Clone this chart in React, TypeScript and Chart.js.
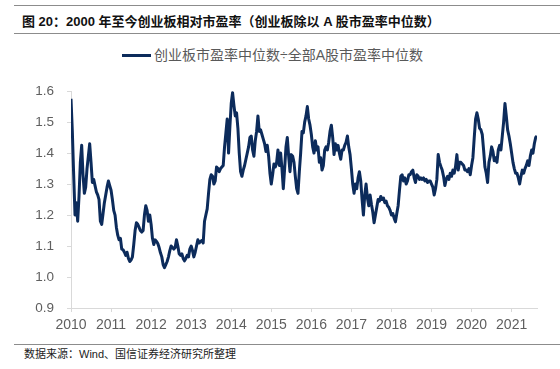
import React, { useEffect, useRef } from "react";
import { Chart, registerables } from "chart.js";

Chart.register(...registerables);

const TITLE = "图 20：2000 年至今创业板相对市盈率（创业板除以 A 股市盈率中位数）";
const SERIES_LABEL = "创业板市盈率中位数÷全部A股市盈率中位数";
const SOURCE = "数据来源：Wind、国信证券经济研究所整理";

const years = [2010, 2011, 2012, 2013, 2014, 2015, 2016, 2017, 2018, 2019, 2020, 2021];
const POINTS_PER_YEAR = 30;
const yMin = 0.9;
const yMax = 1.6;
const yStep = 0.1;

const v2010 = [1.575, 1.47, 1.33, 1.2, 1.24, 1.18, 1.26, 1.37, 1.425, 1.33, 1.27, 1.29, 1.35, 1.39, 1.43, 1.37, 1.305, 1.315, 1.295, 1.275, 1.265, 1.25, 1.18, 1.17, 1.205, 1.24, 1.265, 1.29, 1.31, 1.295];
const v2011 = [1.28, 1.25, 1.215, 1.2, 1.16, 1.135, 1.12, 1.125, 1.09, 1.088, 1.08, 1.07, 1.08, 1.06, 1.05, 1.055, 1.065, 1.105, 1.15, 1.175, 1.17, 1.16, 1.15, 1.145, 1.15, 1.2, 1.23, 1.215, 1.18, 1.2];
const v2012 = [1.17, 1.125, 1.105, 1.12, 1.115, 1.108, 1.095, 1.078, 1.065, 1.04, 1.03, 1.04, 1.05, 1.065, 1.085, 1.1, 1.095, 1.09, 1.095, 1.12, 1.1, 1.075, 1.07, 1.075, 1.06, 1.052, 1.06, 1.07, 1.065, 1.09];
const v2013 = [1.1, 1.085, 1.065, 1.08, 1.1, 1.12, 1.11, 1.115, 1.118, 1.11, 1.18, 1.2, 1.22, 1.27, 1.315, 1.33, 1.325, 1.3, 1.31, 1.355, 1.35, 1.34, 1.35, 1.355, 1.36, 1.42, 1.465, 1.51, 1.4, 1.485];
const v2014 = [1.56, 1.595, 1.555, 1.52, 1.53, 1.48, 1.4, 1.34, 1.325, 1.345, 1.36, 1.38, 1.4, 1.42, 1.45, 1.455, 1.41, 1.39, 1.44, 1.47, 1.52, 1.47, 1.475, 1.46, 1.445, 1.43, 1.405, 1.425, 1.39, 1.335];
const v2015 = [1.3, 1.33, 1.365, 1.355, 1.37, 1.41, 1.36, 1.4, 1.35, 1.285, 1.35, 1.42, 1.45, 1.39, 1.34, 1.395, 1.39, 1.37, 1.325, 1.285, 1.27, 1.34, 1.4, 1.47, 1.465, 1.5, 1.52, 1.55, 1.51, 1.49];
const v2016 = [1.46, 1.42, 1.4, 1.44, 1.41, 1.42, 1.37, 1.385, 1.345, 1.36, 1.41, 1.42, 1.41, 1.435, 1.47, 1.49, 1.45, 1.395, 1.43, 1.41, 1.425, 1.4, 1.38, 1.41, 1.41, 1.425, 1.435, 1.455, 1.42, 1.395];
const v2017 = [1.35, 1.3, 1.27, 1.3, 1.285, 1.32, 1.34, 1.31, 1.25, 1.2, 1.265, 1.3, 1.255, 1.23, 1.265, 1.235, 1.21, 1.175, 1.2, 1.225, 1.25, 1.245, 1.26, 1.25, 1.255, 1.24, 1.245, 1.23, 1.225, 1.215];
const v2018 = [1.2, 1.205, 1.19, 1.178, 1.205, 1.23, 1.28, 1.325, 1.33, 1.31, 1.32, 1.3, 1.31, 1.33, 1.33, 1.34, 1.345, 1.32, 1.305, 1.33, 1.325, 1.315, 1.32, 1.315, 1.32, 1.31, 1.315, 1.305, 1.31, 1.31];
const v2019 = [1.3, 1.29, 1.265, 1.285, 1.315, 1.395, 1.37, 1.357, 1.345, 1.325, 1.295, 1.315, 1.325, 1.315, 1.335, 1.325, 1.345, 1.335, 1.357, 1.395, 1.345, 1.37, 1.37, 1.365, 1.36, 1.345, 1.345, 1.34, 1.35, 1.33];
const v2020 = [1.36, 1.385, 1.45, 1.51, 1.53, 1.51, 1.48, 1.475, 1.46, 1.41, 1.355, 1.335, 1.305, 1.37, 1.39, 1.42, 1.405, 1.375, 1.385, 1.37, 1.41, 1.425, 1.41, 1.455, 1.5, 1.56, 1.52, 1.475, 1.455, 1.43];
const v2021 = [1.4, 1.37, 1.35, 1.335, 1.335, 1.32, 1.3, 1.325, 1.345, 1.335, 1.35, 1.36, 1.375, 1.36, 1.39, 1.41, 1.4, 1.43, 1.45, 1.455];

const yearly = [v2010, v2011, v2012, v2013, v2014, v2015, v2016, v2017, v2018, v2019, v2020, v2021];

const LINE_COLOR = "#0c2b5b";
const AXIS_COLOR = "#d9d9d9";
const TICK_COLOR = "#5f5f5f";
const LATIN = "'Liberation Sans', Arial, Helvetica, sans-serif";
const CJK = "'Liberation Sans', 'Noto Sans CJK SC', sans-serif";

export default function App() {
  const ref = useRef<HTMLCanvasElement | null>(null);

  useEffect(() => {
    if (!ref.current) return;
    const points = yearly.flatMap((arr, i) =>
      arr.map((v, k) => ({ x: years[i] + k / POINTS_PER_YEAR, y: v }))
    );
    const lastX = points[points.length - 1].x;
    const chart = new Chart(ref.current, {
      type: "line",
      data: {
        datasets: [
          {
            label: SERIES_LABEL,
            data: points,
            borderColor: LINE_COLOR,
            backgroundColor: LINE_COLOR,
            borderWidth: 3,
            borderJoinStyle: "round",
            pointRadius: 0,
            tension: 0,
            fill: false,
          },
        ],
      },
      options: {
        animation: false,
        responsive: false,
        maintainAspectRatio: false,
        layout: { padding: { left: 0, right: 23, top: 17, bottom: 0 } },
        plugins: { legend: { display: false }, tooltip: { enabled: false } },
        scales: {
          x: {
            type: "linear",
            min: years[0],
            max: lastX,
            ticks: {
              stepSize: 1,
              includeBounds: false,
              autoSkip: false,
              maxRotation: 0,
              padding: 5,
              color: TICK_COLOR,
              font: { family: LATIN, size: 14 },
              callback: (v: any) => String(v),
            },
            grid: { drawOnChartArea: false, tickLength: 4, color: AXIS_COLOR },
            border: { color: AXIS_COLOR },
            afterFit: (s: any) => {
              s.height = 32;
            },
          },
          y: {
            min: yMin,
            max: yMax,
            ticks: {
              stepSize: yStep,
              padding: 13,
              color: TICK_COLOR,
              font: { family: LATIN, size: 13.5 },
              callback: (v: any) => Number(v).toFixed(1),
            },
            grid: { drawOnChartArea: false, tickLength: 4, color: AXIS_COLOR },
            border: { color: AXIS_COLOR },
            afterFit: (s: any) => {
              s.width = 71;
            },
          },
        },
      },
    });
    return () => chart.destroy();
  }, []);

  return (
    <div style={{ position: "absolute", left: 0, top: 0, width: 560, height: 369, background: "#fff", overflow: "hidden" }}>
      <div style={{ position: "absolute", left: 14, right: 0, top: 5, height: 0, borderTop: "1px solid #8c8c8c" }} />
      <div
        style={{
          position: "absolute",
          left: 22,
          top: 13,
          lineHeight: "18px",
          fontSize: 13,
          fontWeight: "bold",
          fontFamily: CJK,
          color: "#111",
          whiteSpace: "nowrap",
        }}
      >
        {TITLE}
      </div>
      <div style={{ position: "absolute", left: 14, right: 0, top: 33, height: 0, borderTop: "1px solid #8c8c8c" }} />
      <div
        style={{
          position: "absolute",
          left: 122,
          top: 46,
          height: 18,
          display: "flex",
          alignItems: "center",
          whiteSpace: "nowrap",
        }}
      >
        <span style={{ display: "inline-block", width: 29, height: 3, background: LINE_COLOR, marginRight: 3 }} />
        <span style={{ fontSize: 14, fontFamily: CJK, color: "#595959", lineHeight: "18px" }}>{SERIES_LABEL}</span>
      </div>
      <canvas ref={ref} width={560} height={270} style={{ position: "absolute", left: 0, top: 70, width: 560, height: 270 }} />
      <div style={{ position: "absolute", left: 14, right: 0, top: 344, height: 0, borderTop: "1px solid #8c8c8c" }} />
      <div
        style={{
          position: "absolute",
          left: 24,
          top: 346,
          lineHeight: "16px",
          fontSize: 11,
          fontFamily: CJK,
          color: "#222",
          whiteSpace: "nowrap",
        }}
      >
        {SOURCE}
      </div>
    </div>
  );
}
